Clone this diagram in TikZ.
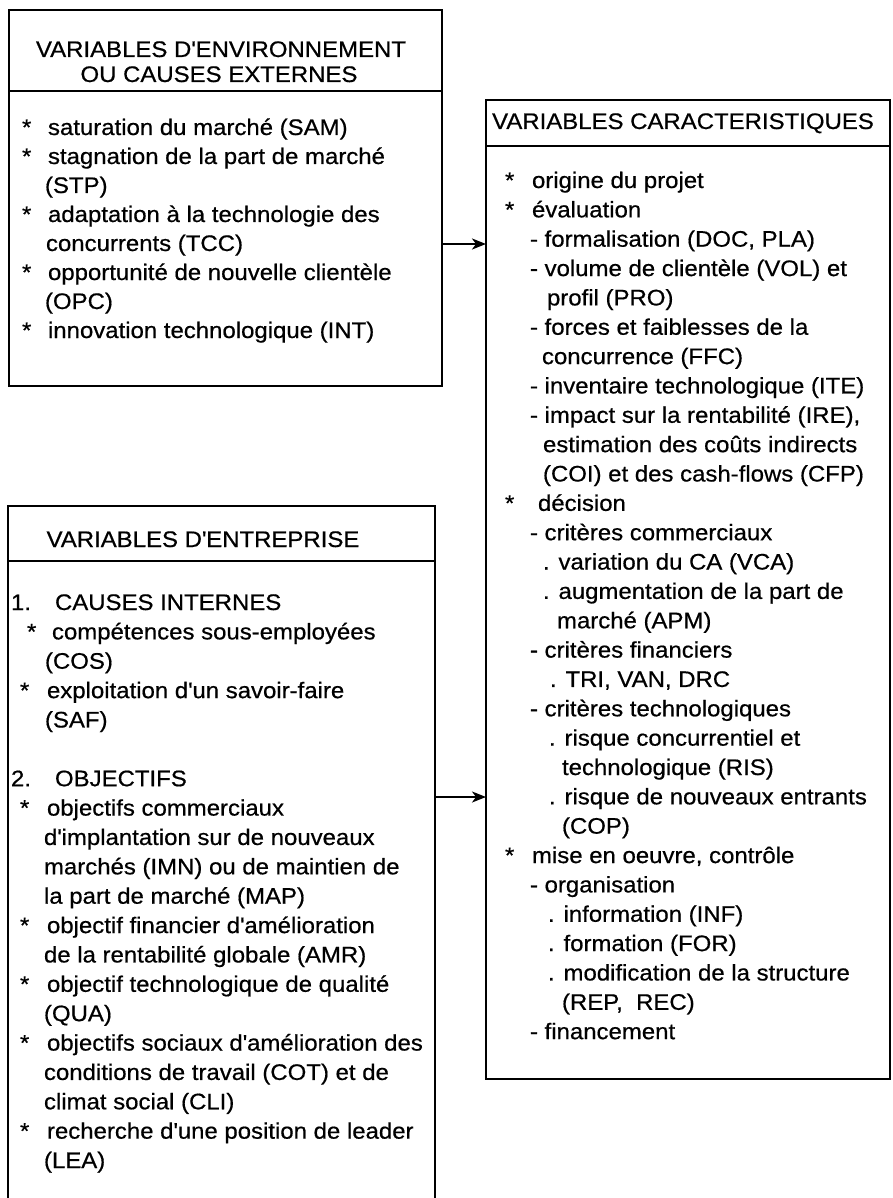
\documentclass[tikz,border=0pt]{standalone}
\usepackage{fontspec}
\setmainfont{Liberation Sans}[FakeStretch=1.065,FakeBold=0.6]
\usetikzlibrary{arrows.meta}
\newcounter{lnum}
\newcommand\fs{\fontsize{22.5}{27}\selectfont}
\newcommand\ap{\textquotesingle}
\newcommand\T[3]{\stepcounter{lnum}\node[txt] (t\arabic{lnum}) at (#1,{\ybase+#2*\pitch}) {#3};}
\begin{document}
\begin{tikzpicture}[x=1pt,y=-1pt,
  box/.style={draw, line width=1.7pt, inner sep=0pt, outer sep=0pt, anchor=north west},
  rule/.style={line width=1.7pt},
  arr/.style={line width=1.7pt, -{Stealth[length=14pt,width=11pt,inset=4pt]}},
  txt/.style={anchor=base west, inner sep=0pt, outer sep=0pt, font=\fs},
  head/.style={anchor=base, inner sep=0pt, outer sep=0pt, font=\fs}]
\useasboundingbox (0,0) rectangle (892,1198);
\clip (0,0) rectangle (892,1198);
\fill[white] (0,0) rectangle (892,1198);
% boxes
\node[box, minimum width=433pt, minimum height=376pt] (env) at (9,10) {};
\node[box, minimum width=404pt, minimum height=979pt] (car) at (486,100) {};
\node[box, minimum width=427pt, minimum height=710pt] (ent) at (8,506) {};
% header separators
\coordinate (s1) at (0,91);
\coordinate (s2) at (0,146);
\coordinate (s3) at (0,561);
\draw[rule] (env.west |- s1) -- (env.east |- s1);
\draw[rule] (car.west |- s2) -- (car.east |- s2);
\draw[rule] (ent.west |- s3) -- (ent.east |- s3);
% arrows
\coordinate (a1) at (0,244);
\coordinate (a2) at (0,797);
\draw[arr] (env.east |- a1) -- (car.west |- a1);
\draw[arr] (ent.east |- a2) -- (car.west |- a2);
% headers
\node[head] (h1) at (221,57) {VARIABLES D\ap ENVIRONNEMENT};
\node[head] (h2) at (219,82) {OU CAUSES EXTERNES};
\node[head] (h3) at (683,129) {VARIABLES CARACTERISTIQUES};
\node[head] (h4) at (203,547) {VARIABLES D\ap ENTREPRISE};
% box 1
\def\ybase{135}\def\pitch{29}
\T{22}{0}{*} \T{48}{0}{saturation du marché (SAM)}
\T{22}{1}{*} \T{48}{1}{stagnation de la part de marché}
\T{45}{2}{(STP)}
\T{22}{3}{*} \T{48}{3}{adaptation à la technologie des}
\T{46}{4}{concurrents (TCC)}
\T{22}{5}{*} \T{48}{5}{opportunité de nouvelle clientèle}
\T{45}{6}{(OPC)}
\T{22}{7}{*} \T{48}{7}{innovation technologique (INT)}
% box 2
\def\ybase{610}\def\pitch{29.37}
\T{11}{0}{1.} \T{55}{0}{CAUSES INTERNES}
\T{27}{1}{*} \T{52}{1}{compétences sous-employées}
\T{45}{2}{(COS)}
\T{20}{3}{*} \T{47}{3}{exploitation d\ap un savoir-faire}
\T{45}{4}{(SAF)}
\T{11}{6}{2.} \T{55}{6}{OBJECTIFS}
\T{20}{7}{*} \T{47}{7}{objectifs commerciaux}
\T{44}{8}{d\ap implantation sur de nouveaux}
\T{44}{9}{marchés (IMN) ou de maintien de}
\T{44}{10}{la part de marché (MAP)}
\T{20}{11}{*} \T{47}{11}{objectif financier d\ap amélioration}
\T{44}{12}{de la rentabilité globale (AMR)}
\T{20}{13}{*} \T{47}{13}{objectif technologique de qualité}
\T{44}{14}{(QUA)}
\T{20}{15}{*} \T{47}{15}{objectifs sociaux d\ap amélioration des}
\T{44}{16}{conditions de travail (COT) et de}
\T{44}{17}{climat social (CLI)}
\T{20}{18}{*} \T{47}{18}{recherche d\ap une position de leader}
\T{44}{19}{(LEA)}
% box 3
\def\ybase{188}\def\pitch{29.35}
\T{505}{0}{*} \T{532}{0}{origine du projet}
\T{505}{1}{*} \T{532}{1}{évaluation}
\T{530}{2}{- formalisation (DOC, PLA)}
\T{530}{3}{- volume de clientèle (VOL) et}
\T{547}{4}{profil (PRO)}
\T{530}{5}{- forces et faiblesses de la}
\T{542}{6}{concurrence (FFC)}
\T{530}{7}{- inventaire technologique (ITE)}
\T{530}{8}{- impact sur la rentabilité (IRE),}
\T{543}{9}{estimation des coûts indirects}
\T{543}{10}{(COI) et des cash-flows (CFP)}
\T{505}{11}{*} \T{538}{11}{décision}
\T{530}{12}{- critères commerciaux}
\T{543}{13}{. variation du CA (VCA)}
\T{543}{14}{. augmentation de la part de}
\T{557}{15}{marché (APM)}
\T{530}{16}{- critères financiers}
\T{550}{17}{. TRI, VAN, DRC}
\T{530}{18}{- critères technologiques}
\T{549}{19}{. risque concurrentiel et}
\T{562}{20}{technologique (RIS)}
\T{549}{21}{. risque de nouveaux entrants}
\T{562}{22}{(COP)}
\T{505}{23}{*} \T{532}{23}{mise en oeuvre, contrôle}
\T{530}{24}{- organisation}
\T{548}{25}{. information (INF)}
\T{548}{26}{. formation (FOR)}
\T{548}{27}{. modification de la structure}
\T{562}{28}{(REP,\ \ REC)}
\T{530}{29}{- financement}
\end{tikzpicture}
\end{document}
